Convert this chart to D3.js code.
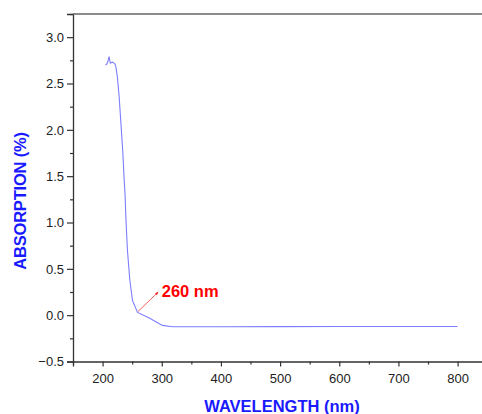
<!DOCTYPE html>
<html>
<head>
<meta charset="utf-8">
<script src="https://cdn.jsdelivr.net/npm/d3@7"></script>
<style>
  body { margin: 0; background: #fff; }
  #chart { width: 482px; height: 414px; }
</style>
</head>
<body>
<div id="chart"></div>
<script>
// spectrum
const wavelength = [205, 207, 208.5, 211, 213, 217, 221, 222.5, 225, 228, 231, 234, 236.5, 238, 239.5, 242, 246, 250.5, 259, 279, 301, 318, 400, 500, 600, 700, 800];
const absorption = [2.70, 2.71, 2.73, 2.79, 2.72, 2.73, 2.71, 2.68, 2.57, 2.36, 2.07, 1.78, 1.46, 1.30, 1.03, 0.70, 0.38, 0.16, 0.03, -0.03, -0.11, -0.125, -0.125, -0.124, -0.123, -0.122, -0.122];
const xTicks = [200, 300, 400, 500, 600, 700, 800];
const yTicks = [-0.5, 0.0, 0.5, 1.0, 1.5, 2.0, 2.5, 3.0];
const peakLabel = "260 nm";

const data = wavelength.map((w, i) => ({ w: w, a: absorption[i] }));

const W = 482, H = 414;
const x = d3.scaleLinear().domain([150, 850]).range([73, 487.2]);
const y = d3.scaleLinear().domain([-0.5, 3.25]).range([361.5, 14]);

const svg = d3.select("#chart").append("svg")
    .attr("width", W)
    .attr("height", H)
    .style("font-family", "'Liberation Sans', Arial, sans-serif");

const axisColor = "#333";

// x axis, major + minor ticks
svg.append("g")
    .attr("transform", `translate(0,${y(-0.5)})`)
    .call(d3.axisBottom(x).tickValues(xTicks).tickSize(5).tickPadding(7).tickFormat(d3.format("d")));
svg.append("g")
    .attr("transform", `translate(0,${y(-0.5)})`)
    .call(d3.axisBottom(x).tickValues(d3.range(150, 851, 100)).tickSize(3).tickFormat(""))
    .select(".domain").remove();

// y axis
svg.append("g")
    .attr("transform", `translate(${x(150)},0)`)
    .call(d3.axisLeft(y).tickValues(yTicks).tickSize(6).tickPadding(3).tickFormat(d3.format(".1f")));
svg.append("g")
    .attr("transform", `translate(${x(150)},0)`)
    .call(d3.axisLeft(y).tickValues(d3.range(-0.25, 3.26, 0.5)).tickSize(3).tickFormat(""))
    .select(".domain").remove();

svg.selectAll(".domain").attr("stroke", axisColor).attr("stroke-width", 1.3);
svg.selectAll(".tick line").attr("stroke", axisColor).attr("stroke-width", 1.2);
svg.selectAll(".tick text").attr("fill", "#222").attr("font-size", "13px");

// top frame line
svg.append("line")
    .attr("x1", x(150)).attr("x2", W)
    .attr("y1", y(3.25)).attr("y2", y(3.25))
    .attr("stroke", "#666")
    .attr("stroke-width", 1.5);

// spectrum
const line = d3.line().x(d => x(d.w)).y(d => y(d.a));
svg.append("path")
    .datum(data)
    .attr("d", line)
    .attr("fill", "none")
    .attr("stroke", "#7d7dff")
    .attr("stroke-width", 1.1);

// annotation arrow
svg.append("defs").append("marker")
    .attr("id", "arrow")
    .attr("viewBox", "0 0 10 10")
    .attr("refX", 9).attr("refY", 5)
    .attr("markerWidth", 4).attr("markerHeight", 4)
    .attr("orient", "auto")
    .append("path")
    .attr("d", "M0,1 L10,5 L0,9 Z")
    .attr("fill", "#f02020");

svg.append("line")
    .attr("x1", x(260)).attr("y1", y(0.04))
    .attr("x2", x(294)).attr("y2", y(0.25))
    .attr("stroke", "#f05050")
    .attr("stroke-width", 0.9)
    .attr("marker-end", "url(#arrow)");

svg.append("text")
    .attr("x", x(300))
    .attr("y", y(0.2))
    .attr("fill", "#ff0000")
    .attr("font-weight", "bold")
    .attr("font-size", "16.5px")
    .text(peakLabel);

// axis titles
svg.append("text")
    .attr("x", 282)
    .attr("y", 412)
    .attr("text-anchor", "middle")
    .attr("fill", "#1a1aff")
    .attr("font-weight", "bold")
    .attr("font-size", "16.5px")
    .text("WAVELENGTH (nm)");

svg.append("text")
    .attr("transform", "translate(26,201) rotate(-90)")
    .attr("text-anchor", "middle")
    .attr("fill", "#1a1aff")
    .attr("font-weight", "bold")
    .attr("font-size", "16.5px")
    .attr("letter-spacing", "-0.2px")
    .text("ABSORPTION (%)");
</script>
</body>
</html>
